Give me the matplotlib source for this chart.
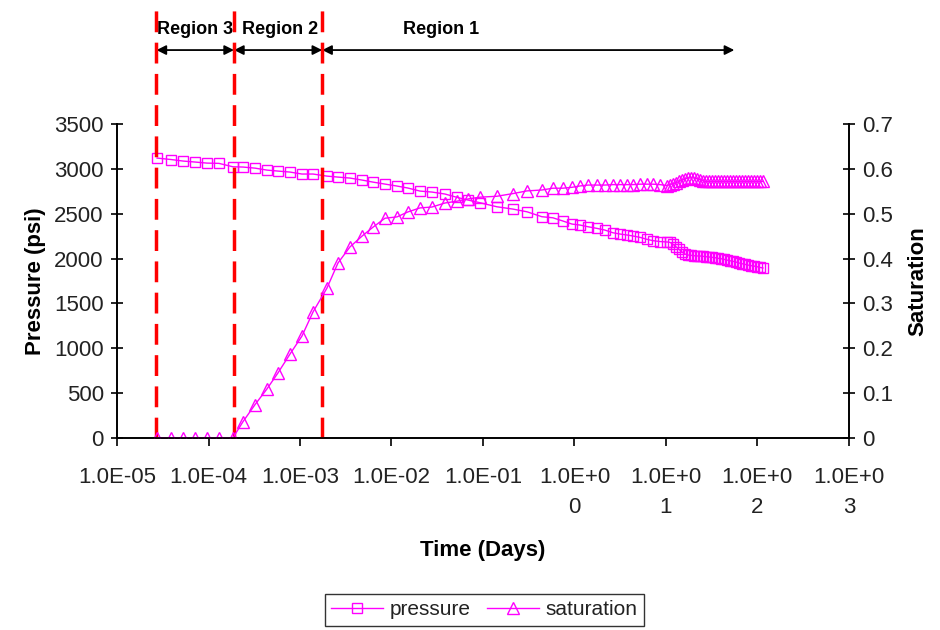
import numpy as np
import matplotlib.pyplot as plt

plt.rcParams['font.family'] = ['Liberation Sans', 'DejaVu Sans']

# time (days)
time = [2.74e-5, 3.89e-5, 5.26e-5, 7.11e-5, 9.63e-5, 1.30e-4, 1.85e-4,
        2.38e-4, 3.22e-4, 4.35e-4, 5.75e-4, 7.78e-4, 1.05e-3, 1.39e-3,
        1.97e-3, 2.60e-3, 3.52e-3, 4.76e-3, 6.28e-3, 8.49e-3, 1.15e-2,
        1.51e-2, 2.05e-2, 2.77e-2, 3.85e-2,
        0.052, 0.0686, 0.0927, 0.142, 0.213, 0.303, 0.441, 0.582, 0.748,
        0.94, 1.15, 1.41, 1.76, 2.15, 2.64, 3.14, 3.75, 4.36, 5.20, 6.20,
        7.21, 8.60,
        10.3, 11.1, 11.9, 12.9, 13.9, 15.0, 16.1, 17.4, 18.8, 20.2, 21.8,
        23.5, 25.4, 27.4, 29.5, 31.8, 34.4, 37.0, 39.9, 43.1, 46.4, 50.1,
        54.0, 58.2, 62.8, 67.7, 73.0, 78.7, 84.9, 91.6, 98.8, 106, 115]

pressure = [3121, 3105, 3088, 3077, 3065, 3062, 3024,
            3021, 3009, 2987, 2976, 2965, 2943, 2943,
            2920, 2909, 2898, 2876, 2853, 2831, 2809,
            2787, 2753, 2742, 2720,
            2683, 2653, 2623, 2578, 2552, 2522, 2467, 2455, 2419,
            2385, 2374, 2355, 2337, 2318, 2288, 2274, 2263, 2252, 2237, 2215,
            2200, 2190,
            2185, 2181, 2162, 2132, 2103, 2073, 2051, 2040, 2036, 2032, 2029,
            2029, 2025, 2021, 2018, 2014, 2010, 2003, 1999, 1992, 1984, 1976,
            1969, 1962, 1951, 1943, 1936, 1928, 1921, 1917, 1910, 1902, 1895]

saturation = [0, 0, 0, 0, 0, 0, 0,
              0.036, 0.074, 0.109, 0.145, 0.187, 0.227, 0.281,
              0.334, 0.390, 0.426, 0.450, 0.470, 0.490, 0.493,
              0.504, 0.513, 0.515, 0.524,
              0.528, 0.533, 0.537, 0.539, 0.545, 0.551, 0.553, 0.557, 0.557,
              0.559, 0.562, 0.564, 0.564, 0.564, 0.565, 0.565, 0.565, 0.565, 0.566, 0.566,
              0.566, 0.565,
              0.563, 0.565, 0.567, 0.569, 0.572, 0.575, 0.577, 0.580, 0.580, 0.580, 0.578,
              0.576, 0.574, 0.572, 0.572, 0.572, 0.572, 0.572, 0.572, 0.572, 0.572, 0.572,
              0.572, 0.572, 0.572, 0.572, 0.572, 0.572, 0.572, 0.572, 0.572, 0.572, 0.572]

# region boundaries (days)
boundaries = [2.7e-5, 1.9e-4, 1.75e-3]
region1_end = 56
region_names = ['Region 3', 'Region 2', 'Region 1']
region_label_x = [7.1e-5, 6.0e-4, 3.5e-2]

xticks = [1e-5, 1e-4, 1e-3, 1e-2, 1e-1, 1e0, 1e1, 1e2, 1e3]
xticklabels = ['1.0E-05', '1.0E-04', '1.0E-03', '1.0E-02', '1.0E-01',
               '1.0E+0\n0', '1.0E+0\n1', '1.0E+0\n2', '1.0E+0\n3']

mag = '#FF00FF'

fig = plt.figure(figsize=(9.4, 6.3), dpi=100)
ax = fig.add_axes([0.1245, 0.305, 0.7785, 0.498])
ax2 = ax.twinx()

l1, = ax.plot(time, pressure, color=mag, lw=1, marker='s', ms=7,
              mfc='none', mec=mag, mew=1, label='pressure')
l2, = ax2.plot(time, saturation, color=mag, lw=1, marker='^', ms=8,
               mfc='none', mec=mag, mew=1, label='saturation')

ax.set_xscale('log')
ax.set_xlim(1e-5, 1e3)
ax.set_ylim(0, 3500)
ax2.set_ylim(0, 0.7)
ax.set_yticks(np.arange(0, 3501, 500))
ax2.set_yticks(np.arange(0, 0.71, 0.1))
ax2.set_yticklabels(['0', '0.1', '0.2', '0.3', '0.4', '0.5', '0.6', '0.7'])
ax.set_xticks(xticks)
ax.set_xticklabels(xticklabels, linespacing=1.55)
ax.xaxis.set_minor_locator(plt.NullLocator())

for a in (ax, ax2):
    a.spines['top'].set_visible(False)
    for s in a.spines.values():
        s.set_linewidth(1.2)
ax.tick_params(axis='y', direction='inout', length=9, width=1.2, labelsize=16, pad=5)
ax2.tick_params(axis='y', direction='inout', length=9, width=1.2, labelsize=16, pad=5)
ax.tick_params(axis='x', direction='out', length=6, width=1.2, labelsize=16, pad=15)
for lab in ax.get_xticklabels() + ax.get_yticklabels() + ax2.get_yticklabels():
    lab.set_color('#222222')

ax.set_xlabel('Time (Days)', fontsize=16, fontweight='bold', labelpad=16)
ax.set_ylabel('Pressure (psi)', fontsize=16, fontweight='bold', labelpad=6)
ax2.set_ylabel('Saturation', fontsize=16, fontweight='bold', labelpad=10)

# red dashed region boundaries, running up above the plot
tr = ax.get_xaxis_transform()
for b in boundaries:
    ax.plot([b, b], [0, 1.38], transform=tr, color='red', lw=2.5,
            dashes=(6, 3), clip_on=False, zorder=5)

# region arrows
ends = boundaries + [region1_end]
for i in range(3):
    ax.annotate('', xy=(ends[i + 1], 1.236), xytext=(ends[i], 1.236),
                xycoords=tr, textcoords=tr,
                arrowprops=dict(arrowstyle='<|-|>', color='black', lw=1.3,
                                mutation_scale=14, shrinkA=0, shrinkB=0))
    ax.text(region_label_x[i], 1.30, region_names[i], transform=tr,
            ha='center', va='center', fontsize=13, fontweight='bold',
            family=['Liberation Sans Narrow', 'Liberation Sans', 'DejaVu Sans'])

leg = fig.legend(handles=[l1, l2], loc='center', bbox_to_anchor=(0.515, 0.032),
                 ncol=2, fontsize=15, frameon=True, fancybox=False,
                 edgecolor='black', handlelength=2.5, handletextpad=0.3,
                 columnspacing=0.8, borderpad=0.3)
leg.get_frame().set_linewidth(1.0)
for t in leg.get_texts():
    t.set_color('#222222')

fig.savefig('out.png', dpi=100)
